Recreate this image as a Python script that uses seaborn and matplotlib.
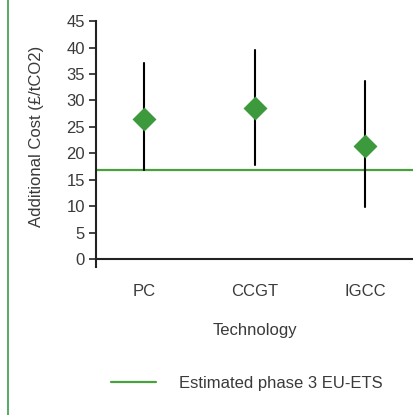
import numpy as np
import pandas as pd
import matplotlib
matplotlib.use('Agg')
import matplotlib.pyplot as plt
from matplotlib.lines import Line2D
import seaborn as sns

technology = ['PC', 'CCGT', 'IGCC']
cost_low = [16.8, 17.8, 9.8]
cost_mid = [26.5, 28.5, 21.3]
cost_high = [37.0, 39.5, 33.7]
eu_ets = 16.8

# long table: median gives the mid value, 100% interval gives low..high
df = pd.DataFrame({
    'Technology': technology * 3,
    'Cost': cost_low + cost_mid + cost_high,
})

sns.set_style('white')
plt.rcParams['font.family'] = ['Liberation Sans', 'DejaVu Sans']

green = '#3d9a3c'
fs = 12
fig = plt.figure(figsize=(4.14, 4.15), dpi=100)
ax = fig.add_axes([0.232, 0.357, 0.768, 0.592])

sns.pointplot(data=df, x='Technology', y='Cost', order=technology,
              estimator='median', errorbar=('pi', 100),
              marker='D', markersize=10, linestyle='none', color=green,
              err_kws={'color': 'black', 'linewidth': 1.5, 'zorder': 1}, ax=ax)

ax.axhline(eu_ets, color='#4a9f3e', linewidth=1.6, zorder=0)

ax.set_xlim(-0.434, 2.44)
ax.set_ylim(-1.5, 45)
ax.set_yticks(range(0, 50, 5))
for s in ['top', 'right']:
    ax.spines[s].set_visible(False)
ax.spines['bottom'].set_position(('data', 0))
for s in ['left', 'bottom']:
    ax.spines[s].set_color('#222222')
    ax.spines[s].set_linewidth(1.5)
ax.tick_params(axis='y', direction='out', length=5, width=1.2, color='#222222',
               labelsize=fs, labelcolor='#3a3a3a', pad=3, left=True)
ax.tick_params(axis='x', length=0, labelsize=fs, labelcolor='#3a3a3a', pad=18)
ax.set_xlabel('Technology', fontsize=fs, color='#3a3a3a', labelpad=17)
ax.set_ylabel('Additional Cost (£/tCO2)', fontsize=fs, color='#3a3a3a')
ax.yaxis.set_label_coords(-0.165, 0.53)

handle = Line2D([], [], color='#4a9f3e', linewidth=1.6)
fig.legend([handle], ['Estimated phase 3 EU-ETS'], loc='center left',
           bbox_to_anchor=(0.247, 0.077), frameon=False, fontsize=fs,
           handlelength=2.7, handletextpad=1.4, borderpad=0, labelcolor='#3a3a3a')

fig.add_artist(Line2D([0.02, 0.02], [0.0, 1.0], color='#3a9a4a', linewidth=1.2,
                      transform=fig.transFigure))

fig.savefig('out.png', dpi=100)
